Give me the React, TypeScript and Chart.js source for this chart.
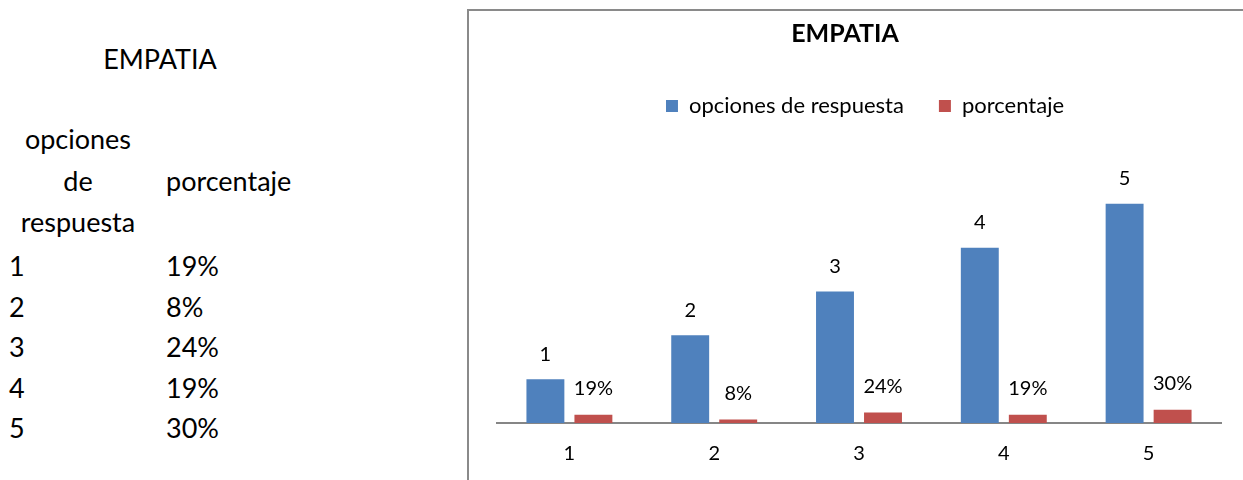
import React, { useEffect, useRef } from "react";
import { Chart, registerables } from "chart.js";

Chart.register(...registerables);

const title = "EMPATIA";
const categories = ["1", "2", "3", "4", "5"];
const seriesNames = ["opciones de respuesta", "porcentaje"];
const opcionesValues = [1, 2, 3, 4, 5];
const porcentajeValues = [0.19, 0.08, 0.24, 0.19, 0.3];
const tableHeader = ["opciones", "de", "respuesta"];
const colors = ["#4F81BD", "#C0504D"];

const FONT = "Lato, 'Open Sans', sans-serif";

const pct = (v: number) => Math.round(v * 100) + "%";

const layoutTweak = {
  id: "layoutTweak",
  beforeInit(chart: any) {
    const legend = chart.legend;
    if (legend) {
      const orig = legend.fit;
      legend.fit = function () {
        orig.call(this);
        this.height += 33;
      };
    }
  },
  afterLayout(chart: any) {
    const t = chart.titleBlock;
    if (t) {
      t.left -= 14;
      t.right -= 14;
    }
    const l = chart.legend;
    if (l) {
      l.left += 6;
      l.right += 6;
    }
  },
};

const dataLabels = {
  id: "dataLabels",
  afterDatasetsDraw(chart: any) {
    const ctx = chart.ctx;
    ctx.save();
    ctx.fillStyle = "#000";
    ctx.font = `20px ${FONT}`;
    ctx.textAlign = "center";
    ctx.textBaseline = "middle";
    chart.data.datasets.forEach((ds: any, di: number) => {
      const meta = chart.getDatasetMeta(di);
      meta.data.forEach((bar: any, i: number) => {
        const v = ds.data[i];
        const txt = di === 0 ? String(v) : pct(v);
        const off = di === 0 ? 25 : 26;
        ctx.fillText(txt, bar.x, bar.y - off);
      });
    });
    ctx.restore();
  },
};

function ChartBox() {
  const ref = useRef<HTMLCanvasElement>(null);
  useEffect(() => {
    if (!ref.current) return;
    const chart = new Chart(ref.current, {
      type: "bar",
      data: {
        labels: categories,
        datasets: [
          {
            label: seriesNames[0],
            data: opcionesValues,
            backgroundColor: colors[0],
            categoryPercentage: 0.663,
            barPercentage: 0.79,
          },
          {
            label: seriesNames[1],
            data: porcentajeValues,
            backgroundColor: colors[1],
            categoryPercentage: 0.663,
            barPercentage: 0.79,
          },
        ],
      },
      options: {
        animation: false,
        responsive: false,
        maintainAspectRatio: false,
        layout: { padding: { left: 28, right: 22, top: 0, bottom: 0 } },
        plugins: {
          title: {
            display: true,
            text: title,
            color: "#000",
            font: { family: FONT, size: 25, weight: "bold" },
            padding: { top: 8, bottom: 11 },
          },
          legend: {
            display: true,
            labels: {
              color: "#000",
              font: { family: FONT, size: 22 },
              boxWidth: 12,
              boxHeight: 12,
              padding: 35,
            },
          },
          tooltip: { enabled: false },
        },
        scales: {
          x: {
            grid: { display: false, drawTicks: false },
            border: { display: true, color: "#868686", width: 2 },
            ticks: {
              color: "#000",
              font: { family: FONT, size: 20 },
              padding: 19,
            },
          },
          y: {
            display: false,
            min: 0,
            max: 6,
          },
        },
      },
      plugins: [layoutTweak, dataLabels],
    });
    return () => chart.destroy();
  }, []);
  return (
    <canvas
      ref={ref}
      width={774}
      height={474}
      style={{ position: "absolute", left: 469, top: 11, width: 774, height: 474 }}
    />
  );
}

export default function App() {
  const textStyle: React.CSSProperties = {
    position: "absolute",
    fontFamily: FONT,
    fontSize: 27,
    lineHeight: "40px",
    color: "#000",
    whiteSpace: "nowrap",
  };
  return (
    <div
      style={{
        position: "fixed",
        left: 0,
        top: 0,
        width: 1243,
        height: 480,
        overflow: "hidden",
        background: "#fff",
      }}
    >
      <div style={{ ...textStyle, left: 0, width: 320, top: 39, textAlign: "center" }}>{title}</div>
      {tableHeader.map((h, i) => (
        <div
          key={h}
          style={{ ...textStyle, left: 0, width: 156, top: 119 + i * 41.5, textAlign: "center" }}
        >
          {h}
        </div>
      ))}
      <div style={{ ...textStyle, left: 166, top: 119 + 41.5 }}>{seriesNames[1]}</div>
      {categories.map((c, i) => (
        <React.Fragment key={c}>
          <div style={{ ...textStyle, left: 9, top: 246 + i * 40.5 }}>{c}</div>
          <div style={{ ...textStyle, left: 166, top: 246 + i * 40.5 }}>{pct(porcentajeValues[i])}</div>
        </React.Fragment>
      ))}
      <div
        style={{
          position: "absolute",
          left: 467,
          top: 9,
          width: 900,
          height: 700,
          border: "2px solid #8a8a8a",
          boxSizing: "border-box",
        }}
      />
      <ChartBox />
    </div>
  );
}
